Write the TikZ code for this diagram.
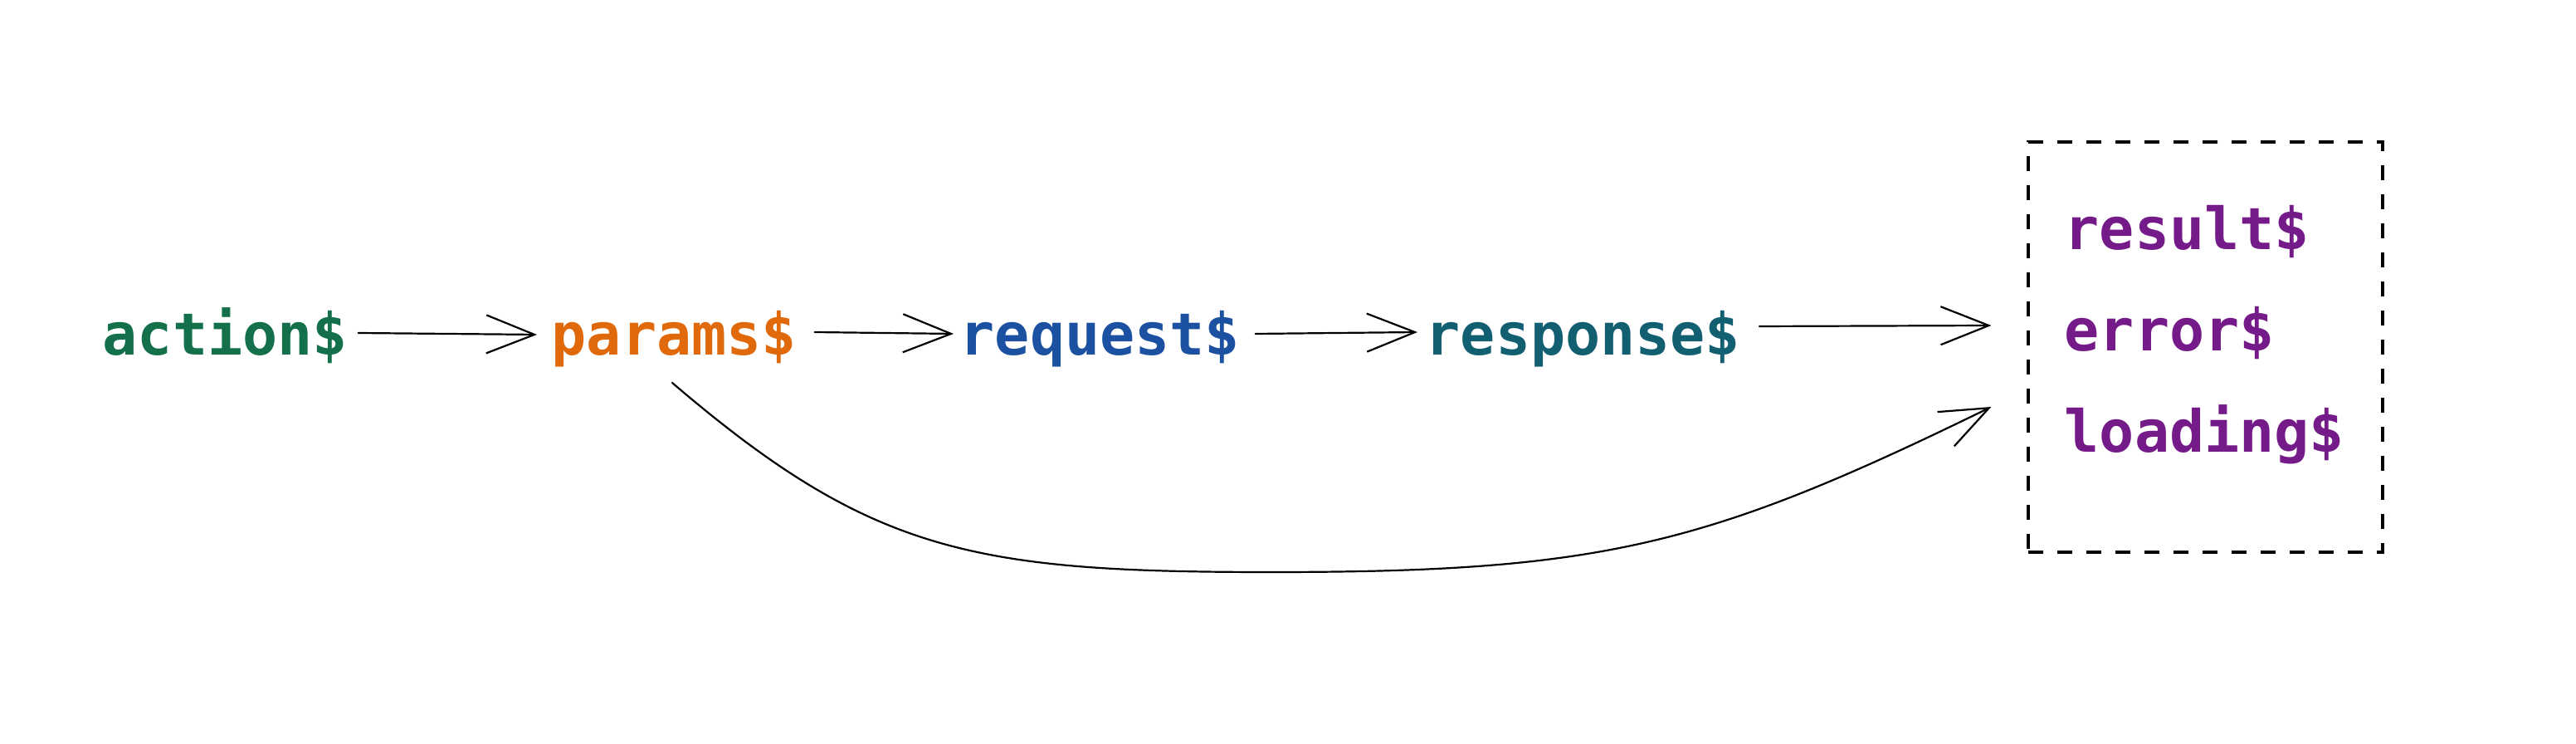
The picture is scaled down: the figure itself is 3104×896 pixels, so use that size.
\documentclass[tikz,border=0pt]{standalone}
\usepackage{fontspec}
\setmonofont{DejaVu Sans Mono}
\usetikzlibrary{arrows.meta}
\definecolor{cgreen}{HTML}{146F4B}
\definecolor{corange}{HTML}{DF690B}
\definecolor{cblue}{HTML}{1B51A0}
\definecolor{cteal}{HTML}{135F72}
\definecolor{cpurple}{HTML}{751A89}
\begin{document}
\begin{tikzpicture}[x=0.25pt,y=-0.25pt,
  lbl/.style={anchor=base west, inner sep=0pt, font=\fontsize{17.5pt}{20pt}\selectfont\ttfamily\bfseries},
  arr/.style={line width=0.55pt, line cap=round, -{Straight Barb[length=14.5pt,width=11.5pt]}},
  groupbox/.style={draw=black, line width=0.8pt, dash pattern=on 4.5pt off 4.25pt, inner sep=0pt, minimum width=106.75pt, minimum height=123.5pt}]
\useasboundingbox (0,0) rectangle (3104,896);
\fill[white] (0,0) rectangle (3104,896);
\node[lbl, text=cgreen] (action) at (123,428) {action\$};
\node[lbl, text=corange] (params) at (664,428) {params\$};
\node[lbl, text=cblue] (request) at (1156,428) {request\$};
\node[lbl, text=cteal] (response) at (1717,428) {response\$};
\node[groupbox] (box) at (2657.5,418) {};
\node[lbl, text=cpurple] (result) at (2487,301) {result\$};
\node[lbl, text=cpurple] (error) at (2487,423) {error\$};
\node[lbl, text=cpurple] (loading) at (2487,545) {loading\$};
\draw[arr] ([shift={(12,-27)}]action.base east) -- ([shift={(-17,-25)}]params.base west);
\draw[arr] ([shift={(21,-28)}]params.base east) -- ([shift={(-7,-26)}]request.base west);
\draw[arr] ([shift={(18,-26)}]request.base east) -- ([shift={(-9,-28)}]response.base west);
\draw[arr] ([shift={(22,-35)}]response.base east) -- ([shift={(-43,-26)}]box.west);
\coordinate (ps) at ([shift={(146,33)}]params.base west);
\coordinate (mid) at (1532,689);
\coordinate (pe) at ([shift={(-43,72)}]box.west);
\draw[arr] (ps) .. controls +(240,205) and +(-360,0) .. (mid) .. controls +(400,0) and +(-342,167) .. (pe);
\end{tikzpicture}
\end{document}
